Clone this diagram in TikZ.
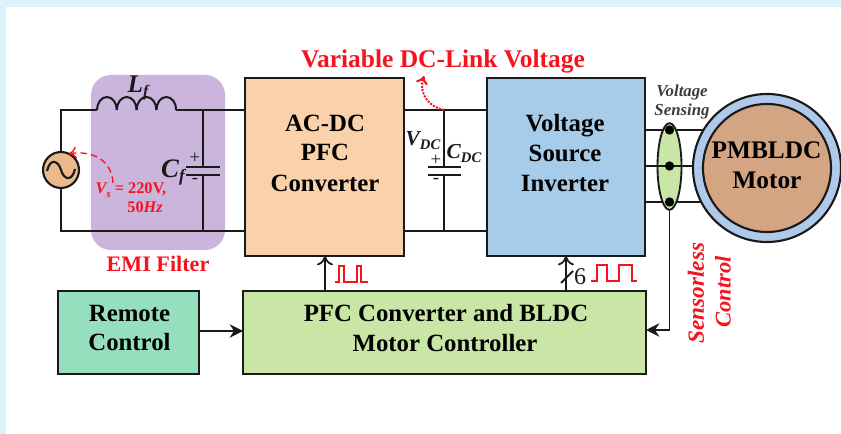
\documentclass[tikz,border=0pt]{standalone}
\usepackage{fontspec}
\setmainfont{Liberation Serif}
\usetikzlibrary{arrows.meta,calc,shapes.geometric}
\definecolor{bgblue}{HTML}{DDF1FD}
\definecolor{ink}{HTML}{1A1A1A}
\definecolor{purp}{HTML}{CBB5DC}
\definecolor{peach}{HTML}{F9D2AC}
\definecolor{sky}{HTML}{A6CCEA}
\definecolor{leaf}{HTML}{C9E6A6}
\definecolor{mint}{HTML}{96DFBE}
\definecolor{srcfill}{HTML}{EBB98A}
\definecolor{ringc}{HTML}{AFC9EA}
\definecolor{rotorc}{HTML}{D3A583}
\definecolor{redc}{HTML}{F5141E}
\newcommand{\fs}[1]{\fontsize{#1}{#1}\selectfont}
\newcommand{\subtxt}[2]{{\fs{#1}\raisebox{-3pt}{#2}}}
\tikzset{
  x=0.75pt,y=-0.75pt,
  wire/.style={draw=ink,line width=1.5pt},
  thinwire/.style={draw=ink,line width=1.2pt},
  blockbox/.style={draw=ink,line width=1.6pt,inner sep=0pt,outer sep=0pt},
  blocktext/.style={inner sep=0pt,outer sep=0pt,anchor=base,text=black,font=\bfseries\fs{18.6}},
  lbl/.style={inner sep=0pt,outer sep=0pt,align=center},
  redlbl/.style={lbl,text=redc,font=\bfseries},
  dot/.style={circle,fill=black,inner sep=0pt,minimum size=7pt,outer sep=0pt},
  upar/.style={wire,-{To[length=7pt,width=12pt,line width=1.3pt]}},
  solidar/.style={wire,-{Stealth[length=10pt,width=10pt]}},
  pulse/.style={draw=redc,line width=1.4pt},
  plate/.style={draw=ink,line width=1.6pt},
}
\begin{document}
\begin{tikzpicture}
\useasboundingbox (0,0) rectangle (841,434);
\fill[bgblue] (0,0) rectangle (841,434);
\fill[white] (6,7) rectangle (841,434);
% EMI background
\fill[purp,rounded corners=15pt] (91,75) rectangle (225,250);
% blocks
\node[blockbox,fill=peach,minimum width=119pt,minimum height=133.5pt] (acdc) at (324.5,167) {};
\node[blockbox,fill=sky,minimum width=118.5pt,minimum height=133.5pt] (vsi) at (566,167) {};
\node[blockbox,fill=leaf,minimum width=302.25pt,minimum height=62.25pt] (ctrl) at (444.5,332.5) {};
\node[blockbox,fill=mint,minimum width=105.75pt,minimum height=62.25pt] (remote) at (128.5,332.5) {};
\node[blocktext] (t1) at (325,132) {AC-DC};
\node[blocktext] (t2) at (325,161) {PFC};
\node[blocktext] (t3) at (325,192) {Converter};
\node[blocktext] (t4) at (565,132) {Voltage};
\node[blocktext] (t5) at (565,162) {Source};
\node[blocktext] (t6) at (565,192) {Inverter};
\node[blocktext] (t7) at (446,321) {PFC Converter and BLDC};
\node[blocktext] (t8) at (445,351) {Motor Controller};
\node[blocktext] (t9) at (129.5,321) {Remote};
\node[blocktext] (t10) at (129.5,350) {Control};
% coordinates
\coordinate (tl) at (61,110);
\coordinate (bl) at (61,231);
\coordinate (ls) at (97,110);
\coordinate (le) at (176,110);
\coordinate (cft) at (203,110);
\coordinate (cfb) at (203,231);
\coordinate (cfa) at (203,167);
\coordinate (cfc) at (203,175);
\coordinate (dct) at (444,110);
\coordinate (dcb) at (444,231);
\coordinate (dca) at (444,167);
\coordinate (dcc) at (444,175);
% source
\node[circle,draw=ink,line width=1.6pt,fill=srcfill,minimum size=27pt,inner sep=0pt,outer sep=0pt] (src) at (61,170) {};
\draw[line width=1.6pt,draw=ink] (47,171) .. controls (50,158) and (58,160) .. (61,170) .. controls (64,180) and (72,182) .. (75,169);
% input wiring
\draw[wire] (src.north) -- (tl) -- (ls);
\draw[wire] (src.south) -- (bl) -- (acdc.west |- bl);
\draw[wire] (le) -- (acdc.west |- le);
\draw[wire] (ls) arc[start angle=180,end angle=0,x radius=9.9,y radius=-13];
\draw[wire] ($(ls)+(19.8,0)$) arc[start angle=180,end angle=0,x radius=9.9,y radius=-13];
\draw[wire] ($(ls)+(39.6,0)$) arc[start angle=180,end angle=0,x radius=9.9,y radius=-13];
\draw[wire] ($(ls)+(59.4,0)$) arc[start angle=180,end angle=0,x radius=9.9,y radius=-13];
\draw[wire] (cft) -- (cfa);
\draw[wire] (cfc) -- (cfb);
\draw[plate] ($(cfa)+(-17,0)$) -- ($(cfa)+(17,0)$);
\draw[plate] ($(cfc)+(-17,0)$) -- ($(cfc)+(17,0)$);
% DC link
\draw[wire] (acdc.east |- dct) -- (vsi.west |- dct);
\draw[wire] (acdc.east |- dcb) -- (vsi.west |- dcb);
\draw[thinwire] (dct) -- (dca);
\draw[thinwire] (dcc) -- (dcb);
\draw[plate] ($(dca)+(-16,0)$) -- ($(dca)+(17,0)$);
\draw[plate] ($(dcc)+(-16,0)$) -- ($(dcc)+(17,0)$);
% inverter outputs, then motor on top
\coordinate (o1) at (645,130);
\coordinate (o2) at (645,166);
\coordinate (o3) at (645,202);
\coordinate (m1) at (720,130);
\coordinate (m2) at (720,166);
\coordinate (m3) at (720,202);
\draw[thinwire] (o1) -- (m1);
\draw[thinwire] (o2) -- (m2);
\draw[thinwire] (o3) -- (m3);
\node[circle,draw=ink,line width=1.6pt,fill=ringc,minimum size=111pt,inner sep=0pt,outer sep=0pt] (ring) at (767,168) {};
\node[circle,draw=ink,line width=1.6pt,fill=rotorc,minimum size=96pt,inner sep=0pt,outer sep=0pt] (rotor) at (767,168) {};
\node[blocktext,font=\bfseries\fs{19}] (t11) at (766.5,159) {PMBLDC};
\node[blocktext,font=\bfseries\fs{19}] (t12) at (767,189) {Motor};
% sensing
\node[ellipse,draw=ink,line width=1.4pt,fill=leaf,minimum width=18pt,minimum height=65pt,inner sep=0pt,outer sep=0pt] (sens) at (669.5,166.5) {};
\draw[thinwire] (sens.west |- o2) -- (sens.east |- o2);
\node[dot] (d1) at (669.5,130) {};
\node[dot] (d2) at (669.5,166) {};
\node[dot] (d3) at (669.5,202) {};
\coordinate (sc) at (669.5,330);
\draw[solidar,line width=1.2pt] (sens.south) -- (sc) -- (ctrl.east |- sc);
% control arrows
\coordinate (u1) at (325,291);
\coordinate (u2) at (566,291);
\draw[upar] (u1) -- (acdc.south -| u1);
\draw[upar] (u2) -- (vsi.south -| u2);
\coordinate (rc) at (199,331);
\draw[solidar] (remote.east |- rc) -- (ctrl.west |- rc);
\coordinate (sl1) at (561,283);
\coordinate (sl2) at (573,271);
\draw[wire] (sl1) -- (sl2);
% pulses
\coordinate (p1) at (335,282);
\draw[pulse] (p1) -- ++(4,0) -- ++(0,-16) -- ++(5,0) -- ++(0,16) -- ++(13,0) -- ++(0,-16) -- ++(4,0) -- ++(0,16) -- ++(7,0);
\coordinate (p2) at (591,281);
\draw[pulse] (p2) -- ++(6,0) -- ++(0,-16) -- ++(10,0) -- ++(0,16) -- ++(12,0) -- ++(0,-16) -- ++(13,0) -- ++(0,16) -- ++(5,0);
% labels
\node[lbl,font=\fs{18},text=ink] (six) at (580,277) {6};
\node[redlbl,font=\bfseries\fs{19.1},anchor=base] (title) at (443,68) {Variable DC-Link Voltage};
\node[redlbl,font=\bfseries\fs{16.6},anchor=base] (emi) at (158,272) {EMI Filter};
\node[lbl,font=\bfseries\itshape\fs{19},text=ink,anchor=base] (lf) at (138,93) {L\subtxt{12}{f}};
\node[lbl,font=\bfseries\itshape\fs{20},text=ink,anchor=base] (cf) at (173,178) {C\subtxt{13}{f}};
\node[lbl,font=\fs{14},text=ink] (cfp) at (195,158) {+};
\node[lbl,font=\fs{14},text=ink] (cfm) at (195,181) {-};
\node[redlbl,font=\bfseries\fs{12.2},anchor=base] (vs) at (131,194) {\textit{V\subtxt{8}{s}} = 220V,};
\node[redlbl,font=\bfseries\fs{12.2},anchor=base] (hz) at (145,213) {50\textit{Hz}};
\node[lbl,font=\bfseries\itshape\fs{16},text=ink,anchor=base] (vdc) at (423,146) {V\subtxt{11}{DC}};
\node[lbl,font=\bfseries\itshape\fs{16},text=ink,anchor=base] (cdc) at (464,159) {C\subtxt{11}{DC}};
\node[lbl,font=\fs{14},text=ink] (dcp) at (436,160) {+};
\node[lbl,font=\fs{14},text=ink] (dcm) at (436,181) {-};
\node[lbl,font=\bfseries\itshape\fs{12.6},text=ink!85,anchor=base] (vsense1) at (682,97) {Voltage};
\node[lbl,font=\bfseries\itshape\fs{12.6},text=ink!85,anchor=base] (vsense2) at (682,116) {Sensing};
\node[redlbl,font=\bfseries\itshape\fs{17.4},rotate=90] (sless) at (696,293) {Sensorless};
\node[redlbl,font=\bfseries\itshape\fs{16.8},rotate=90] (ctl) at (723,292) {Control};
% red annotation arrows
\coordinate (va) at (113,183);
\draw[draw=redc,line width=1pt,dash pattern=on 5pt off 3pt,-{To[length=6pt,width=9pt]}] (va) .. controls (112,162) and (95,150) .. (src.65);
\draw[draw=redc,line width=1.5pt,densely dotted,-{To[length=6pt,width=9pt]}] (dct) .. controls (430,107) and (418,95) .. (424,76);
\end{tikzpicture}
\end{document}
